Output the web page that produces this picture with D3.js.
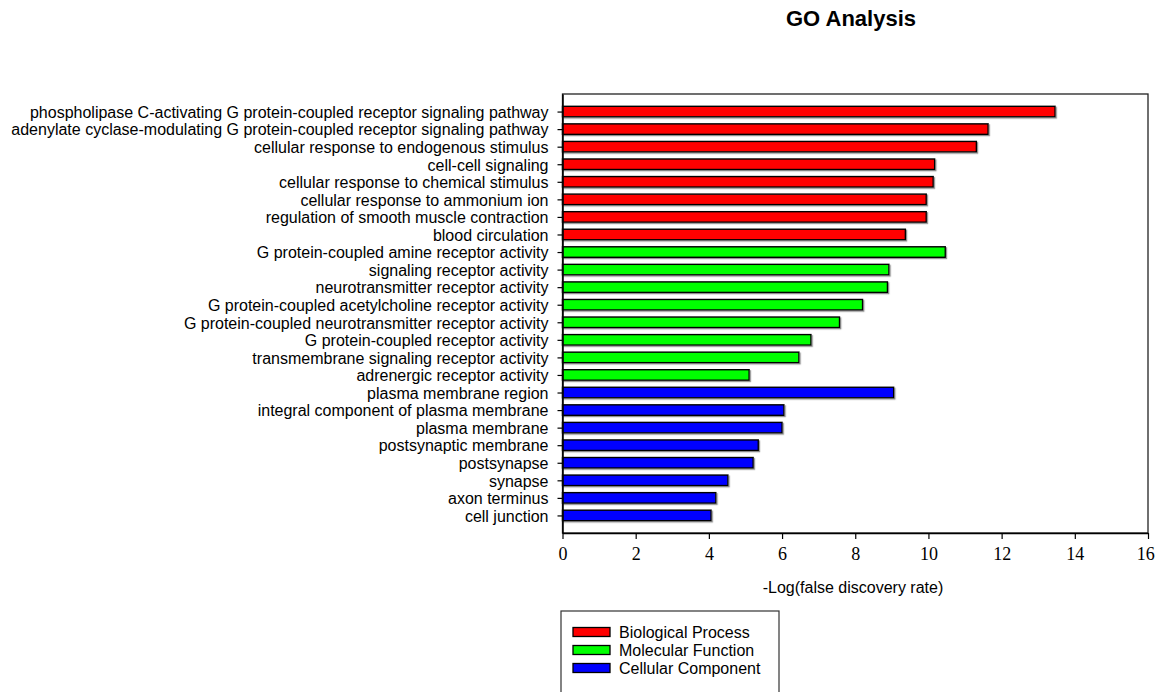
<!DOCTYPE html>
<html lang="en">
<head>
    <meta charset="UTF-8">
    <title>GO Analysis</title>
    <script src="https://d3js.org/d3.v7.min.js"></script>
    <style>
        body { margin: 0; background: #fff; }
        svg text { font-family: "Liberation Sans", Arial, sans-serif; fill: #000; }
    </style>
</head>
<body>
    <div id="chart"></div>
    <script>
        // GO terms, top to bottom
        var terms = [
            "phospholipase C-activating G protein-coupled receptor signaling pathway",
            "adenylate cyclase-modulating G protein-coupled receptor signaling pathway",
            "cellular response to endogenous stimulus",
            "cell-cell signaling",
            "cellular response to chemical stimulus",
            "cellular response to ammonium ion",
            "regulation of smooth muscle contraction",
            "blood circulation",
            "G protein-coupled amine receptor activity",
            "signaling receptor activity",
            "neurotransmitter receptor activity",
            "G protein-coupled acetylcholine receptor activity",
            "G protein-coupled neurotransmitter receptor activity",
            "G protein-coupled receptor activity",
            "transmembrane signaling receptor activity",
            "adrenergic receptor activity",
            "plasma membrane region",
            "integral component of plasma membrane",
            "plasma membrane",
            "postsynaptic membrane",
            "postsynapse",
            "synapse",
            "axon terminus",
            "cell junction"
        ];
        // -log(FDR)
        var values = [13.46, 11.63, 11.31, 10.17, 10.13, 9.94, 9.94, 9.37,
                      10.46, 8.92, 8.88, 8.20, 7.57, 6.79, 6.46, 5.10,
                      9.05, 6.05, 6.00, 5.35, 5.21, 4.52, 4.19, 4.06];
        var groups = ["BP","BP","BP","BP","BP","BP","BP","BP",
                      "MF","MF","MF","MF","MF","MF","MF","MF",
                      "CC","CC","CC","CC","CC","CC","CC","CC"];
        var groupKeys = ["BP", "MF", "CC"];
        var groupNames = ["Biological Process", "Molecular Function", "Cellular Component"];
        var groupColors = ["#ff0000", "#00ff00", "#0000ff"];
        var xTicks = [0, 2, 4, 6, 8, 10, 12, 14, 16];

        var data = terms.map(function(t, i) {
            return { term: t, value: values[i], group: groups[i] };
        });

        var width = 1155, height = 692;
        var pLeft = 562.5, pRight = 1148, pTop = 94, pBottom = 533;

        var svg = d3.select("#chart").append("svg")
            .attr("width", width)
            .attr("height", height);

        var defs = svg.append("defs");
        var f = defs.append("filter").attr("id", "shadow")
            .attr("x", "-5%").attr("y", "-20%").attr("width", "110%").attr("height", "160%");
        f.append("feDropShadow").attr("dx", 1.2).attr("dy", 1.2)
            .attr("stdDeviation", 0.3).attr("flood-color", "#888").attr("flood-opacity", 0.9);

        var x = d3.scaleLinear().domain([0, 16]).range([pLeft, pRight]);
        var y = d3.scalePoint().domain(terms).range([pTop, pBottom]).padding(1);
        var color = d3.scaleOrdinal().domain(groupKeys).range(groupColors);
        var barH = 10.5;

        // title
        svg.append("text")
            .attr("x", 851).attr("y", 26)
            .attr("text-anchor", "middle")
            .style("font-size", "22px")
            .style("font-weight", "bold")
            .text("GO Analysis");

        // bars
        svg.append("g").selectAll("rect")
            .data(data)
            .enter().append("rect")
            .attr("x", x(0))
            .attr("y", d => y(d.term) - barH / 2)
            .attr("width", d => x(d.value) - x(0))
            .attr("height", barH)
            .attr("fill", d => color(d.group))
            .attr("stroke", "#000")
            .attr("stroke-width", 1.4)
            .attr("filter", "url(#shadow)");

        // frame
        svg.append("rect")
            .attr("x", pLeft).attr("y", pTop)
            .attr("width", pRight - pLeft).attr("height", pBottom - pTop)
            .attr("fill", "none")
            .attr("stroke", "#222")
            .attr("stroke-width", 1.3);

        // y axis
        var yAxis = svg.append("g")
            .attr("transform", "translate(" + pLeft + ",0)")
            .call(d3.axisLeft(y).tickSize(5).tickPadding(9).tickSizeOuter(0));
        yAxis.select(".domain").attr("stroke", "#000").attr("stroke-width", 1.5);
        yAxis.selectAll(".tick line").attr("stroke", "#000").attr("stroke-width", 1.2);
        yAxis.selectAll(".tick text")
            .style("font-family", "'Liberation Sans', Arial, sans-serif")
            .style("font-size", "16px")
            .attr("dy", "0.36em");

        // x axis
        var xAxis = svg.append("g")
            .attr("transform", "translate(0," + pBottom + ")")
            .call(d3.axisBottom(x).tickValues(xTicks).tickSize(6).tickPadding(8).tickSizeOuter(0));
        xAxis.select(".domain").attr("stroke", "#000").attr("stroke-width", 1.5);
        xAxis.selectAll(".tick line").attr("stroke", "#000").attr("stroke-width", 1.2);
        xAxis.selectAll(".tick text")
            .style("font-family", "'Liberation Serif', 'Times New Roman', serif")
            .style("font-size", "18px")
            .attr("dx", d => d === 16 ? "-0.15em" : 0);

        svg.append("text")
            .attr("x", 853).attr("y", 593)
            .attr("text-anchor", "middle")
            .style("font-size", "16px")
            .text("-Log(false discovery rate)");

        // legend
        var lg = svg.append("g");
        lg.append("rect")
            .attr("x", 561).attr("y", 611)
            .attr("width", 218).attr("height", 100)
            .attr("fill", "#fff")
            .attr("stroke", "#333")
            .attr("stroke-width", 1.2);
        var items = lg.selectAll(".item")
            .data(groupKeys)
            .enter().append("g")
            .attr("transform", (d, i) => "translate(573," + (632 + i * 18) + ")");
        items.append("rect")
            .attr("x", 0).attr("y", -4.5)
            .attr("width", 37).attr("height", 9)
            .attr("fill", d => color(d))
            .attr("stroke", "#000")
            .attr("stroke-width", 1.3);
        items.append("text")
            .attr("x", 46).attr("y", 0)
            .attr("dy", "0.36em")
            .style("font-size", "16px")
            .text((d, i) => groupNames[i]);
    </script>
</body>
</html>
